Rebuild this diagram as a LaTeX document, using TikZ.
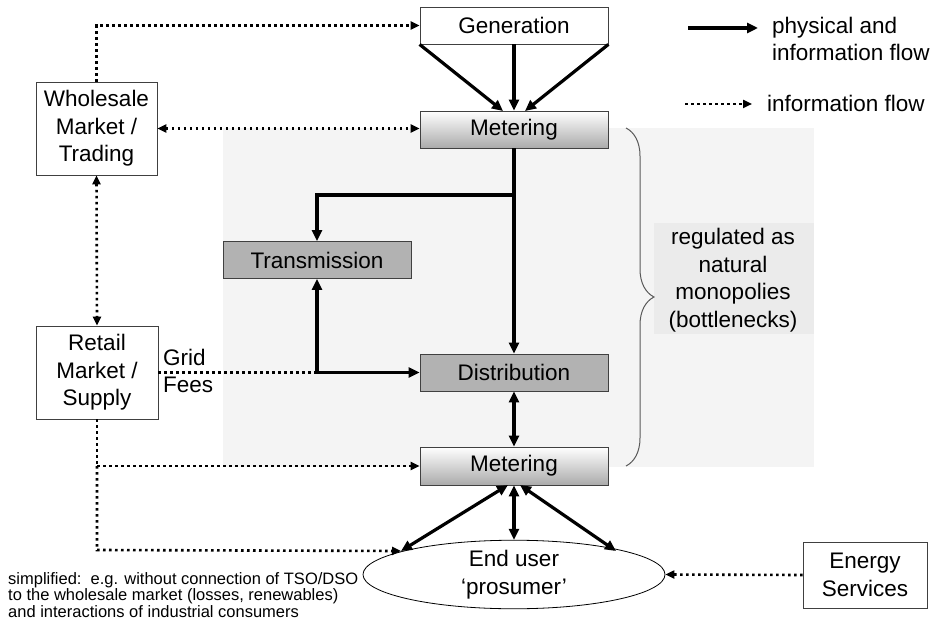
\documentclass[tikz,border=0pt]{standalone}
\usepackage{fontspec}
\setmainfont{Liberation Sans}
\usetikzlibrary{arrows.meta,shapes.geometric,decorations.pathreplacing,calc}
\definecolor{bgregion}{HTML}{F4F4F4}
\definecolor{bglabel}{HTML}{EBEBEB}
\definecolor{boxgray}{HTML}{B2B2B2}
\definecolor{edgegray}{HTML}{404040}
\begin{document}
\begin{tikzpicture}[x=1pt,y=-1pt,
  every node/.style={font=\fontsize{22.5}{27.5}\selectfont, inner sep=0pt, align=center},
  plainbox/.style={draw=edgegray, line width=0.8pt, fill=white, minimum width=188pt, minimum height=37pt},
  meterbox/.style={draw=edgegray, line width=0.8pt, top color=white, bottom color=black!33, minimum width=188pt, minimum height=37pt},
  gridbox/.style={draw=edgegray, line width=0.8pt, fill=boxgray, minimum width=188pt, minimum height=37pt},
  sidebox/.style={draw=edgegray, line width=0.8pt, fill=white},
  solidflow/.style={line width=3.2pt, -{Triangle[length=11pt,width=10pt]}},
  solidboth/.style={line width=3.2pt, {Triangle[length=11pt,width=10pt]}-{Triangle[length=11pt,width=10pt]}},
  solidline/.style={line width=3.2pt},
  dotflow/.style={line width=2.6pt, dash pattern=on 2.6pt off 3.4pt, -{Triangle[length=9pt,width=8pt]}},
  dotboth/.style={line width=2.6pt, dash pattern=on 2.6pt off 3.4pt, {Triangle[length=9pt,width=8pt]}-{Triangle[length=9pt,width=8pt]}},
  dotline/.style={line width=2.6pt, dash pattern=on 2.6pt off 3.4pt},
  smalltext/.style={font=\fontsize{16.5}{16.8}\selectfont, align=left}
]
\useasboundingbox (0,0) rectangle (937,620);
% background regions
\fill[bgregion] (223,128) rectangle (814,467);
\fill[bglabel] (654,223) rectangle (814,334);

% nodes
\node[plainbox] (Gen) at (514,25.5) {Generation};
\node[meterbox] (Mt) at (514,129.5) {Metering};
\node[gridbox] (Tr) at (317,260) {Transmission};
\node[gridbox] (Di) at (514,372.5) {Distribution};
\node[meterbox, minimum height=38pt] (Mb) at (514,466) {Metering};
\node[sidebox, minimum width=121pt, minimum height=93pt] (WS) at (96.5,128.5) {Wholesale\\Market /\\Trading};
\node[sidebox, minimum width=122pt, minimum height=93pt] (RT) at (97,372.5) {Retail\\Market /\\Supply};
\node[sidebox, minimum width=124pt, minimum height=66pt] (ES) at (865,575) {Energy\\Services};
\node[ellipse, draw=black, line width=0.8pt, fill=white, minimum width=302pt, minimum height=65pt] (EU) at (514,574.5) {End user\\`prosumer'};

\node[align=center] (Reg) at (733,280) {regulated as\\natural\\monopolies\\(bottlenecks)};
\node[anchor=west, align=left] (Grid) at (163,371) {Grid\\Fees};
\node[anchor=west, smalltext] (Note) at (8,595) {simplified:\ \ e.g. without connection of TSO/DSO\\to the wholesale market (losses, renewables)\\and interactions of industrial consumers};

% legend
\coordinate (LAa) at (688,28);
\coordinate (LAb) at (758,28);
\coordinate (LBa) at (685,104);
\coordinate (LBb) at (752,104);
\draw[solidflow] (LAa) -- (LAb);
\draw[dotflow] (LBa) -- (LBb);
\node[anchor=west, align=left] (LegA) at (772,39) {physical and\\information flow};
\node[anchor=west] (LegB) at (767,103) {information flow};

% brace
\coordinate (BrT) at (626,128);
\coordinate (BrB) at (626,466);
\draw[black!65, line width=1pt, decorate, decoration={brace, amplitude=28pt}] (BrT) -- (BrB);

% generation -> metering
\coordinate (MtL) at (503,111);
\coordinate (MtR) at (525,111);
\draw[solidflow] (Gen.south west) -- (MtL);
\draw[solidflow] (Gen.south) -- (Mt.north);
\draw[solidflow] (Gen.south east) -- (MtR);

% metering -> distribution / transmission
\coordinate (J1) at (514,195);
\coordinate (J2) at (317,372.5);
\draw[solidflow] (Mt.south) -- (Di.north);
\draw[solidflow] (J1) -| (Tr.north);
\draw[dotline] (RT.east |- J2) -- (J2);
\draw[solidflow] (J2) -- (Tr.south);
\draw[solidflow] (J2) -- (Di.west);
\draw[solidboth] (Di.south) -- (Mb.north);

% metering <-> end user
\coordinate (MbL) at (508,485);
\coordinate (MbR) at (520,485);
\coordinate (EUL) at (401,551);
\coordinate (EUR) at (616,551);
\draw[solidboth] (MbL) -- (EUL);
\draw[solidboth] (Mb.south) -- (EU.north);
\draw[solidboth] (MbR) -- (EUR);

% information flows
\draw[dotflow] (WS.north) |- (Gen.west);
\draw[dotboth] (WS.east) -- (WS.east -| Mt.west);
\draw[dotboth] (WS.south) -- (RT.north);
\coordinate (K1) at (RT.south |- Mb.west);
\coordinate (K2) at (97,550);
\draw[dotline] (RT.south) -- (K1);
\draw[dotflow] (K1) -- (Mb.west);
\draw[dotflow] (K1) -- (K2) -- (EUL);
\draw[dotflow] (ES.west) -- (EU.east);
\end{tikzpicture}
\end{document}
